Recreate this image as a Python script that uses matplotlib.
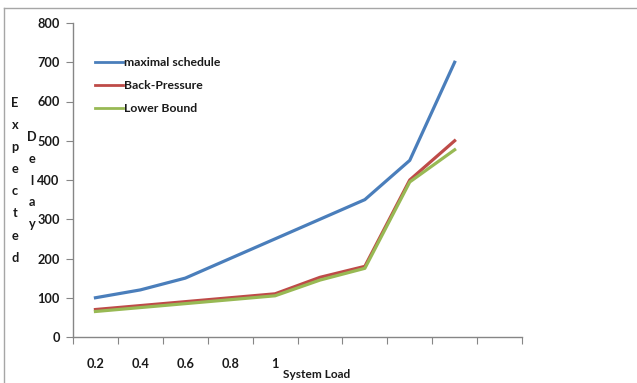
import matplotlib
matplotlib.use("Agg")
import matplotlib.pyplot as plt
from matplotlib.lines import Line2D

plt.rcParams['font.family'] = ['Lato', 'DejaVu Sans']

categories = ["0.2", "0.4", "0.6", "0.8", "1", "", "", "", "", ""]
maximal_schedule = [100, 120, 150, 200, 250, 300, 350, 450, 700]
back_pressure = [70, 80, 90, 100, 110, 152, 180, 400, 500]
lower_bound = [65, 75, 85, 95, 105, 145, 175, 395, 477]
y_ticks = [0, 100, 200, 300, 400, 500, 600, 700, 800]

W, H = 637, 383
FS = 9.2
TXT = "#1a1a1a"
fig = plt.figure(figsize=(W / 100, H / 100), dpi=100)
ax = fig.add_axes([73 / W, 1 - 337 / H, 449 / W, 314 / H])

n = len(categories)
xs = [i + 0.5 for i in range(len(maximal_schedule))]
ax.plot(xs, maximal_schedule, color="#4A7EBB", lw=2.3, label="maximal schedule", solid_joinstyle="round")
ax.plot(xs, back_pressure, color="#BE4B48", lw=2.3, label="Back-Pressure", solid_joinstyle="round")
ax.plot(xs, lower_bound, color="#98B954", lw=2.3, label="Lower Bound", solid_joinstyle="round")

ax.set_xlim(0, n)
ax.set_ylim(0, 800)
ax.set_xticks(range(n + 1))
ax.set_xticklabels([])
ax.set_xticks([i + 0.5 for i in range(n)], minor=True)
ax.set_xticklabels(categories, minor=True, fontsize=FS, fontweight="bold", color=TXT)
ax.tick_params(axis="x", which="major", length=5, color="#868686", direction="out")
ax.tick_params(axis="x", which="minor", length=0, pad=15)
ax.set_yticks(y_ticks)
ax.set_yticklabels([str(v) for v in y_ticks], fontsize=FS, fontweight="bold", color=TXT)
ax.tick_params(axis="y", length=5, color="#868686", direction="out", pad=4.5)

for side in ("top", "right"):
    ax.spines[side].set_visible(False)
for side in ("left", "bottom"):
    ax.spines[side].set_color("#868686")
    ax.spines[side].set_linewidth(1.0)

leg = ax.legend(loc="upper left", bbox_to_anchor=(22 / 449, 1 - 34 / 314), frameon=False,
                prop={"size": 8.8, "weight": "bold"}, handlelength=2.3, handletextpad=0.05,
                labelspacing=0.98, borderaxespad=0, borderpad=0)
for t in leg.get_texts():
    t.set_color(TXT)
for h in leg.get_lines():
    h.set_linewidth(2.0)

# Stacked axis titles on the left
for i, ch in enumerate("Expected"):
    fig.text(15 / W, 1 - (103 + i * 22.1) / H, ch, ha="center", va="center",
             fontsize=FS, fontweight="bold", color=TXT)
for i, ch in enumerate("Delay"):
    fig.text(32 / W, 1 - (137 + i * 21.8) / H, ch, ha="center", va="center",
             fontsize=FS, fontweight="bold", color=TXT)

fig.text(317 / W, 1 - 374 / H, "System Load", ha="center", va="center",
         fontsize=8.6, fontweight="bold", color=TXT)

# Chart-area border
fig.add_artist(Line2D([4 / W, 1], [1 - 8 / H, 1 - 8 / H], color="#A6A6A6", lw=1.0))
fig.add_artist(Line2D([4 / W, 4 / W], [0, 1 - 8 / H], color="#A6A6A6", lw=1.0))

fig.savefig("out.png", dpi=100)
